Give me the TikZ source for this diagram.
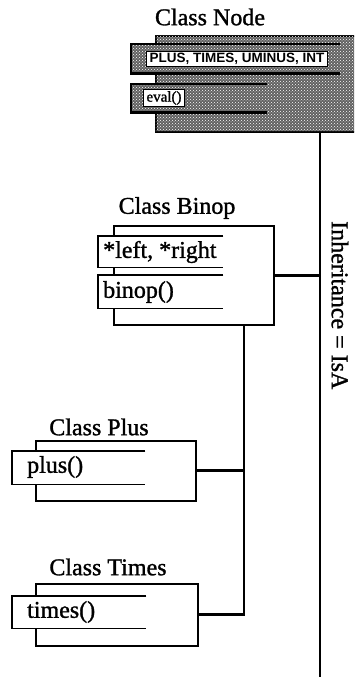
\documentclass[tikz,border=0pt]{standalone}
\usepackage{fontspec}
\setmainfont{Liberation Serif}
\newfontfamily\heavy{Liberation Serif}[FakeBold=1.2]
\newfontfamily\sansf{Liberation Sans Bold}
\usetikzlibrary{patterns}
\begin{document}
\begin{tikzpicture}[x=1pt,y=-1pt,
  box/.style={draw, line width=1.6pt, inner sep=0pt, anchor=north west},
  rowfill/.style={fill=white, inner sep=0pt, anchor=north west},
  side/.style={line width=1.5pt},
  thickside/.style={line width=2.2pt},
  conn/.style={line width=2.8pt},
  title/.style={font=\heavy\fontsize{24}{24}\selectfont, inner sep=0pt},
  rowtext/.style={font=\heavy\fontsize{24}{24}\selectfont, inner sep=0pt, anchor=west},
  shade/.style={fill=black!62, postaction={pattern=crosshatch dots, pattern color=white}},
  shrow/.style={shade, inner sep=0pt, anchor=north west},
  whitelabel/.style={fill=white, draw, line width=1pt, inner xsep=3pt, inner ysep=1.5pt}
]
\clip (0,0) rectangle (354,677);
% ---------- Class Node ----------
\node[title] (ntitle) at (210,17) {Class Node};
\node[box, shade, minimum width=230, minimum height=96] (node) at (155,35) {};
\node[shrow, minimum width=209, minimum height=29] (nattr) at (131,44) {};
\draw[thickside] (nattr.north east) -- (nattr.north west) -- (nattr.south west) -- (nattr.south east);
\node[whitelabel, font=\sansf\fontsize{13.5}{13.5}\selectfont] (nattrtxt) at (237,59) {PLUS, TIMES, UMINUS, INT};
\node[shrow, minimum width=136, minimum height=28] (nmeth) at (131,84) {};
\draw[thickside] (nmeth.north east) -- (nmeth.north west) -- (nmeth.south west) -- (nmeth.south east);
\node[whitelabel, font=\heavy\fontsize{15}{15}\selectfont] (nmethtxt) at (164,98) {eval()};
% main trunk
\coordinate (mainend) at (320,677);
\draw[conn] (node.south -| mainend) -- (mainend);
\node[rotate=-90, anchor=west, font=\heavy\fontsize{24}{24}\selectfont, inner sep=0pt] (inh) at (340,221) {Inheritance = IsA};
% ---------- Class Binop ----------
\node[title] (btitle) at (177,208) {Class Binop};
\node[box, minimum width=160, minimum height=99] (binop) at (113,225) {};
\node[rowfill, minimum width=125, minimum height=31] (battr) at (98,236) {};
\draw[side] (battr.north east) -- (battr.north west) -- (battr.south west) -- (battr.south east);
\node[rowtext] (battrtxt) at (103,252) {*left, *right};
\node[rowfill, minimum width=125, minimum height=33] (bmeth) at (98,275) {};
\draw[side] (bmeth.north east) -- (bmeth.north west) -- (bmeth.south west) -- (bmeth.south east);
\node[rowtext] (bmethtxt) at (103,292) {binop()};
\draw[conn] (binop.east) -- (binop.east -| mainend);
% ---------- Class Plus ----------
\node[title] (ptitle) at (99,427) {Class Plus};
\node[box, minimum width=160, minimum height=60] (plus) at (35,440) {};
\node[rowfill, minimum width=133, minimum height=33] (pmeth) at (12,451) {};
\draw[side] (pmeth.north east) -- (pmeth.north west) -- (pmeth.south west) -- (pmeth.south east);
\node[rowtext] (pmethtxt) at (27,467) {plus()};
% ---------- Class Times ----------
\node[title] (ttitle) at (108,567) {Class Times};
\node[box, minimum width=162, minimum height=62] (times) at (35,583) {};
\node[rowfill, minimum width=134, minimum height=32] (tmeth) at (12,596) {};
\draw[side] (tmeth.north east) -- (tmeth.north west) -- (tmeth.south west) -- (tmeth.south east);
\node[rowtext] (tmethtxt) at (27,612) {times()};
% lower trunk
\coordinate (trunk) at (244,0);
\draw[conn] (binop.south -| trunk) -- (times.east -| trunk) -- (times.east);
\draw[conn] (plus.east) -- (plus.east -| trunk);
\end{tikzpicture}
\end{document}
